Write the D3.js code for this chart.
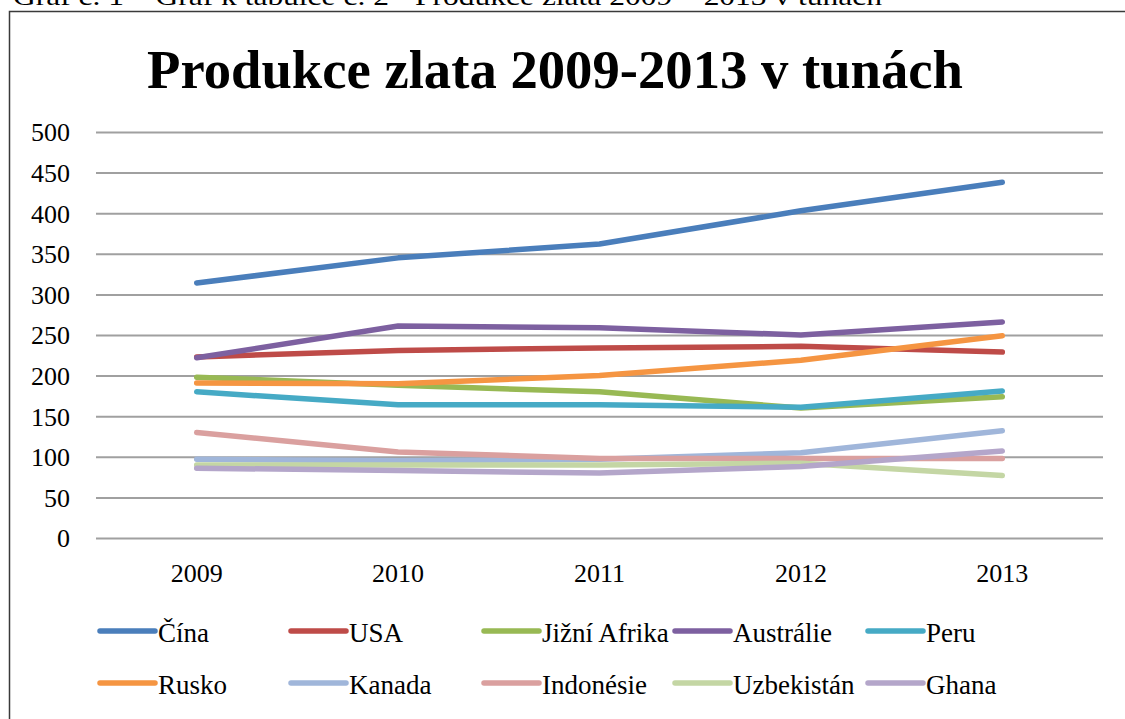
<!DOCTYPE html>
<html>
<head>
<meta charset="utf-8">
<script src="https://cdn.jsdelivr.net/npm/d3@7"></script>
<style>
  html, body { margin: 0; padding: 0; background: #fff; }
  svg { display: block; }
  text { font-family: "Liberation Serif", "Times New Roman", serif; fill: #000; }
</style>
</head>
<body>
<svg id="chart" width="1125" height="719"></svg>
<script>
// Gold production by country, tonnes
const years = ["2009", "2010", "2011", "2012", "2013"];
const yTicks = [0, 50, 100, 150, 200, 250, 300, 350, 400, 450, 500];

const cina       = [314, 345, 362, 403, 438];
const usa        = [223, 231, 234, 236, 229];
const jizniAfrika = [198, 188, 180, 160, 174];
const australie  = [222, 261, 259, 250, 266];
const peru       = [180, 164, 164, 161, 181];
const rusko      = [191, 190, 200, 219, 249];
const kanada     = [97, 95, 97, 105, 132];
const indonesie  = [130, 106, 98, 98, 98];
const uzbekistan = [90, 90, 90, 92, 77];
const ghana      = [86, 83, 80, 88, 107];

const seriesNames = ["Čína", "USA", "Jižní Afrika", "Austrálie", "Peru",
                     "Rusko", "Kanada", "Indonésie", "Uzbekistán", "Ghana"];
const seriesValues = [cina, usa, jizniAfrika, australie, peru,
                      rusko, kanada, indonesie, uzbekistan, ghana];
const seriesColors = ["#4A7EBB", "#BE4B48", "#98B954", "#7D60A0", "#46AAC5",
                      "#F59542", "#A0B6DA", "#DAA09F", "#C4D6A4", "#B4A6CA"];

const serif = "'Liberation Serif', 'Times New Roman', serif";
const svg = d3.select("#chart");

// Document caption above the chart frame
svg.append("text")
  .attr("x", 13).attr("y", 4.5)
  .attr("font-size", 26)
  .attr("textLength", 869)
  .attr("lengthAdjust", "spacingAndGlyphs")
  .text("Graf č. 1 – Graf k tabulce č. 2 - Produkce zlata 2009 – 2013 v tunách");

// Chart frame
svg.append("rect")
  .attr("x", 9.5).attr("y", 11.5)
  .attr("width", 1130).attr("height", 730)
  .attr("fill", "none")
  .attr("stroke", "#3a3a3a")
  .attr("stroke-width", 1.5);

// Title
svg.append("text")
  .attr("x", 147).attr("y", 88)
  .attr("font-size", 55)
  .attr("font-weight", "bold")
  .attr("textLength", 816)
  .attr("lengthAdjust", "spacingAndGlyphs")
  .text("Produkce zlata 2009-2013 v tunách");

const plotLeft = 96, plotRight = 1103, plotTop = 132, plotBottom = 538;

const x = d3.scaleBand().domain(years).range([plotLeft, plotRight]).padding(0);
const y = d3.scaleLinear().domain([0, 500]).range([plotBottom, plotTop]);

// Y axis with gridlines
const yAxis = svg.append("g")
  .attr("transform", `translate(${plotLeft},0)`)
  .call(d3.axisLeft(y).tickValues(yTicks).tickSize(-(plotRight - plotLeft)).tickPadding(26));
yAxis.select(".domain").remove();
yAxis.selectAll(".tick line").attr("stroke", "#a0a0a0").attr("stroke-width", 2);
yAxis.selectAll(".tick text")
  .style("font-family", serif)
  .style("font-size", "26px")
  .attr("fill", "#000")
  .attr("dy", "0.34em");

// X axis labels
const xAxis = svg.append("g")
  .attr("transform", `translate(0,${plotBottom})`)
  .call(d3.axisBottom(x).tickSize(0));
xAxis.select(".domain").remove();
xAxis.selectAll(".tick text")
  .style("font-family", serif)
  .style("font-size", "26px")
  .attr("fill", "#000")
  .attr("y", 44)
  .attr("dy", 0);

// Series lines
const line = d3.line()
  .x((d, i) => x(years[i]) + x.bandwidth() / 2)
  .y(d => y(d));

svg.append("g").selectAll("path")
  .data(seriesValues)
  .join("path")
  .attr("d", d => line(d))
  .attr("fill", "none")
  .attr("stroke", (d, i) => seriesColors[i])
  .attr("stroke-width", 5.5)
  .attr("stroke-linecap", "round")
  .attr("stroke-linejoin", "round");

// Legend: two rows of five entries
const legendX = [100, 291, 484, 675, 868];
const legendY = [631, 683];
const legend = svg.append("g").selectAll("g")
  .data(seriesNames)
  .join("g")
  .attr("transform", (d, i) => `translate(${legendX[i % 5]},${legendY[Math.floor(i / 5)]})`);

legend.append("line")
  .attr("x1", 0).attr("x2", 55)
  .attr("y1", 0).attr("y2", 0)
  .attr("stroke", (d, i) => seriesColors[i])
  .attr("stroke-width", 5.5)
  .attr("stroke-linecap", "round");

legend.append("text")
  .attr("x", 58).attr("y", 11)
  .style("font-size", "27px")
  .text(d => d);
</script>
</body>
</html>
